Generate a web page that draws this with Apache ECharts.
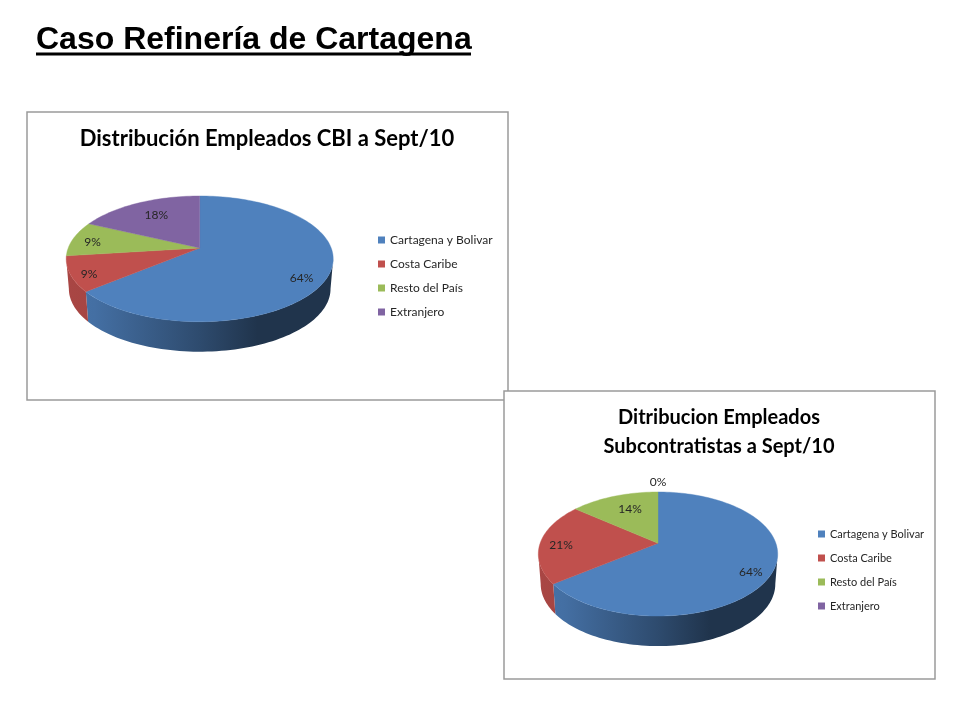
<!DOCTYPE html>
<html>
<head>
<meta charset="utf-8">
<style>html,body{margin:0;padding:0;background:#fff}#c{width:960px;height:720px}</style>
<script src="https://cdn.jsdelivr.net/npm/echarts@6/dist/echarts.min.js"></script>
</head>
<body>
<div id="c"></div>
<script>
// ---- data ----
const categories = ['Cartagena y Bolivar', 'Costa Caribe', 'Resto del País', 'Extranjero'];
const cbiValues = [64, 9, 9, 18];
const subcontractorValues = [64, 21, 14, 0];
const pageTitle = 'Caso Refinería de Cartagena';
const cbiTitle = 'Distribución Empleados CBI a Sept/10';
const subcontractorTitle = 'Ditribucion Empleados\nSubcontratistas a Sept/10';

// ---- styles and layout ----
const colors = ['#4f81bd', '#c0504d', '#9bbb59', '#8064a2'];
const pies = [
  { values: cbiValues, cx: 199.7, cy: 248, A: 131.5, a: 61, depth: 30,
    labelShift: [[14, 10.5], [-22, 8], [-18, 1], [1.4, -0.6]] },
  { values: subcontractorValues, cx: 658, cy: 543.3, A: 117.9, a: 60.2, depth: 30,
    labelShift: [[14.6, 9], [-14.6, 2.7], [4, 0], [0, -23.7]] }
];
const PERSPECTIVE = 0.1726;
const BOTTOM_SHRINK = 0.98;
// The side wall is visible only between the two outermost points of the rim.
const WALL_FROM = Math.acos(-PERSPECTIVE);
const WALL_TO = Math.PI * 2 - WALL_FROM;

function project(p, theta, f) {
  const u = Math.sin(theta) * f, v = Math.cos(theta) * f;
  const den = 1 + PERSPECTIVE * v;
  return [p.A * u / den, -p.a * v / den];
}
function shade(hex, m) {
  const n = parseInt(hex.slice(1), 16);
  const c = [(n >> 16) & 255, (n >> 8) & 255, n & 255].map(x => Math.round(x * m));
  return 'rgb(' + c.join(',') + ')';
}
function sampleArc(p, t0, t1) {
  const steps = Math.max(2, Math.ceil((t1 - t0) / 0.03));
  const pts = [];
  for (let i = 0; i <= steps; i++) {
    pts.push(project(p, t0 + (t1 - t0) * i / steps, 1));
  }
  return pts;
}

function sliceRenderer(p, idx) {
  const total = p.values.reduce((s, v) => s + v, 0);
  const startValue = p.values.slice(0, idx).reduce((s, v) => s + v, 0);
  return function (params, api) {
    const value = api.value(0);
    const t0 = startValue / total * Math.PI * 2;
    const t1 = (startValue + value) / total * Math.PI * 2;
    const children = [];
    const mid = (t0 + t1) / 2;
    const lp = project(p, mid, 0.7);
    if (value > 0) {
      const base = colors[idx];
      const w0 = Math.max(t0, WALL_FROM), w1 = Math.min(t1, WALL_TO);
      if (w1 > w0) {
        const wall = sampleArc(p, w0, w1);
        const upper = wall.map(q => [p.cx + q[0], p.cy + q[1]]);
        const lower = wall.map(q => [p.cx + q[0] * BOTTOM_SHRINK, p.cy + q[1] + p.depth]);
        const fill = new echarts.graphic.LinearGradient(p.cx - p.A, 0, p.cx + p.A, 0, [
          { offset: 0, color: shade(base, 0.88) },
          { offset: 0.1, color: shade(base, 0.86) },
          { offset: 0.5, color: shade(base, 0.58) },
          { offset: 0.72, color: shade(base, 0.40) },
          { offset: 1, color: shade(base, 0.40) }
        ], true);
        children.push({
          type: 'polygon', z2: 1,
          shape: { points: upper.concat(lower.reverse()) },
          style: { fill: fill, stroke: null }
        });
      }
      const rim = sampleArc(p, t0, t1).map(q => [p.cx + q[0], p.cy + q[1]]);
      children.push({
        type: 'polygon', z2: 10,
        shape: { points: [[p.cx, p.cy]].concat(rim) },
        style: { fill: base, stroke: base, lineWidth: 0.4 }
      });
    }
    children.push({
      type: 'text', z2: 20,
      x: p.cx + lp[0] + p.labelShift[idx][0],
      y: p.cy + lp[1] + p.labelShift[idx][1],
      style: { text: value + '%', fill: '#262626', font: '12px Lato', align: 'center', verticalAlign: 'middle' }
    });
    return { type: 'group', children: children };
  };
}

const series = [];
pies.forEach(p => {
  categories.forEach((name, i) => {
    series.push({
      type: 'custom', name: name, coordinateSystem: 'none',
      silent: true, animation: false,
      itemStyle: { color: colors[i] },
      data: [p.values[i]],
      renderItem: sliceRenderer(p, i)
    });
  });
});

const legendBase = { orient: 'vertical', icon: 'rect', itemWidth: 7, itemHeight: 7, itemGap: 10,
  selectedMode: false, data: categories, padding: 0 };

const chart = echarts.init(document.getElementById('c'), null, { renderer: 'canvas' });
chart.setOption({
  animation: false,
  backgroundColor: '#ffffff',
  title: [
    { text: pageTitle, left: 36, top: 24, padding: 0,
      textStyle: { fontFamily: 'Liberation Sans', fontWeight: 'bold', fontSize: 32, color: '#000' } },
    { text: cbiTitle, left: 267, top: 128, padding: 0, textAlign: 'center',
      textStyle: { fontFamily: 'Lato', fontWeight: 'bold', fontSize: 22, color: '#000' } },
    { text: subcontractorTitle, left: 719, top: 403, padding: 0, textAlign: 'center',
      textStyle: { fontFamily: 'Lato', fontWeight: 'bold', fontSize: 20, lineHeight: 29, color: '#000' } }
  ],
  legend: [
    Object.assign({}, legendBase, { left: 378, top: 233, textStyle: { fontFamily: 'Lato', fontSize: 12, color: '#262626', height: 14, lineHeight: 14 } }),
    Object.assign({}, legendBase, { left: 818, top: 527, textStyle: { fontFamily: 'Lato', fontSize: 11, color: '#262626', height: 14, lineHeight: 14 } })
  ],
  graphic: [
    { type: 'rect', z: -2, shape: { x: 27, y: 112, width: 481, height: 288 },
      style: { fill: '#fff', stroke: '#9a9a9a', lineWidth: 1.5 } },
    { type: 'rect', z: -1, shape: { x: 504, y: 391, width: 431, height: 288 },
      style: { fill: '#fff', stroke: '#9a9a9a', lineWidth: 1.5 } },
    { type: 'rect', z: 5, shape: { x: 36, y: 52.5, width: 435, height: 3 }, style: { fill: '#000' } }
  ],
  series: series
});
</script>
</body>
</html>
